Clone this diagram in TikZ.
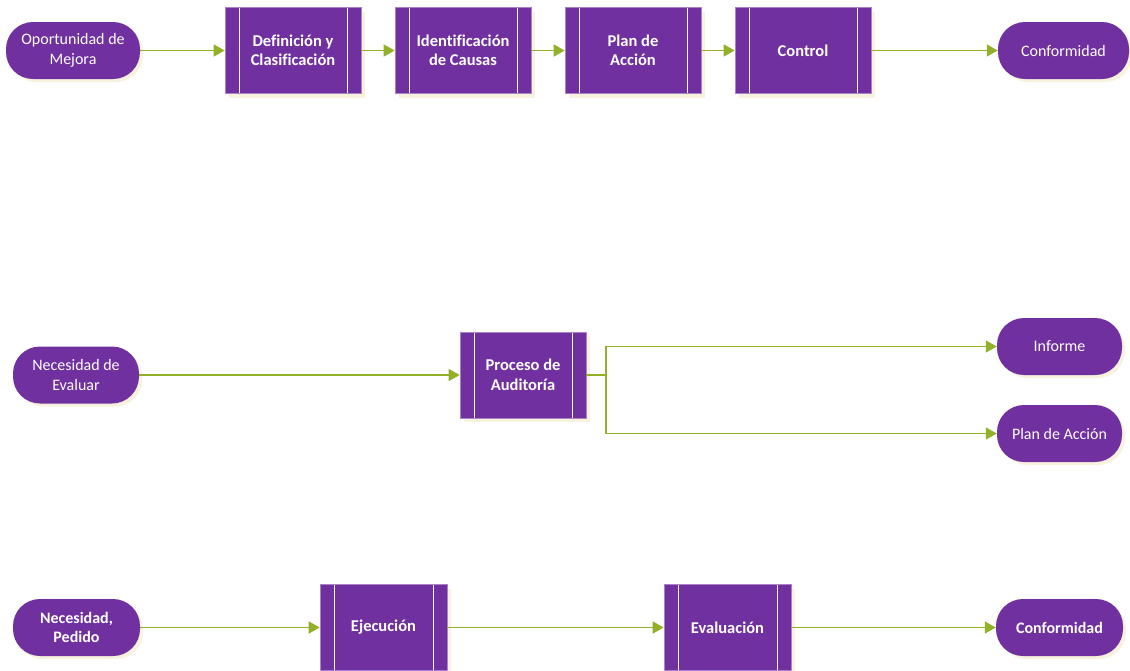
\documentclass[tikz,border=0pt]{standalone}
\usepackage{fontspec}
\setmainfont{Carlito}[Ligatures=NoCommon]
\usetikzlibrary{arrows.meta,shadows}
\definecolor{purp}{RGB}{112,48,160}
\definecolor{flowgreen}{RGB}{146,176,40}
\definecolor{shade}{RGB}{246,242,222}
\begin{document}
\begin{tikzpicture}[x=1pt,y=-1pt,
  term/.style={rectangle, rounded corners=27pt, fill=purp, text=white,
    minimum height=57pt, align=center, inner sep=0pt,
    font=\fontsize{16}{19.5}\selectfont,
    general shadow={fill=shade, shadow xshift=3pt, shadow yshift=-3pt}},
  termbold/.style={term, font=\fontsize{16}{19.5}\selectfont\bfseries},
  procbox/.style={rectangle, fill=purp, text=white, draw=purp!60!white, line width=0.6pt,
    minimum width=136pt, minimum height=86pt, align=center, inner sep=0pt,
    font=\fontsize{16.5}{19.5}\selectfont\bfseries,
    general shadow={fill=shade, shadow xshift=4pt, shadow yshift=-4pt},
    path picture={
      \draw[white, line width=0.9pt]
        ([xshift=14pt]path picture bounding box.north west) --
        ([xshift=14pt]path picture bounding box.south west);
      \draw[white, line width=0.9pt]
        ([xshift=-14pt]path picture bounding box.north east) --
        ([xshift=-14pt]path picture bounding box.south east);
    }},
  flow/.style={draw=flowgreen, line width=1.3pt,
    -{Triangle[length=11pt, width=12pt]}, fill=none}
]
\useasboundingbox (0,0) rectangle (1130,670);

% Row 1
\node[term, minimum width=134pt] (om) at (73,50.5) {Oportunidad de\\Mejora};
\node[procbox] (dc) at (293,50.5) {Definición y\\Clasificación};
\node[procbox] (ic) at (463,50.5) {Identificación\\de Causas};
\node[procbox] (pa) at (633,50.5) {Plan de\\Acción};
\node[procbox] (ct) at (803,50.5) {Control};
\node[term, minimum width=131pt] (cf) at (1063.5,50.5) {Conformidad};
\draw[flow] (om) -- (dc);
\draw[flow] (dc) -- (ic);
\draw[flow] (ic) -- (pa);
\draw[flow] (pa) -- (ct);
\draw[flow] (ct) -- (cf);

% Row 2
\node[term, minimum width=126pt] (ne) at (76,375) {Necesidad de\\Evaluar};
\node[procbox, minimum width=126pt] (au) at (523,375) {Proceso de\\Auditoría};
\node[term, minimum width=125pt] (inf) at (1059.5,346.5) {Informe};
\node[term, minimum width=125pt] (pl) at (1059.5,433.5) {Plan de Acción};
\coordinate (br) at (606,375);
\draw[flow] (ne) -- (au);
\draw[flow] (au.east) -- (br) |- (inf.west);
\draw[flow] (au.east) -- (br) |- (pl.west);

% Row 3
\node[termbold, minimum width=127pt] (np) at (76.5,627.5) {Necesidad,\\Pedido};
\node[procbox, minimum width=127pt] (ej) at (383.5,627.5) {Ejecución};
\node[procbox, minimum width=127pt] (ev) at (727.5,627.5) {Evaluación};
\node[termbold, minimum width=127pt] (cf2) at (1059.5,627.5) {Conformidad};
\draw[flow] (np) -- (ej);
\draw[flow] (ej) -- (ev);
\draw[flow] (ev) -- (cf2);
\end{tikzpicture}
\end{document}
